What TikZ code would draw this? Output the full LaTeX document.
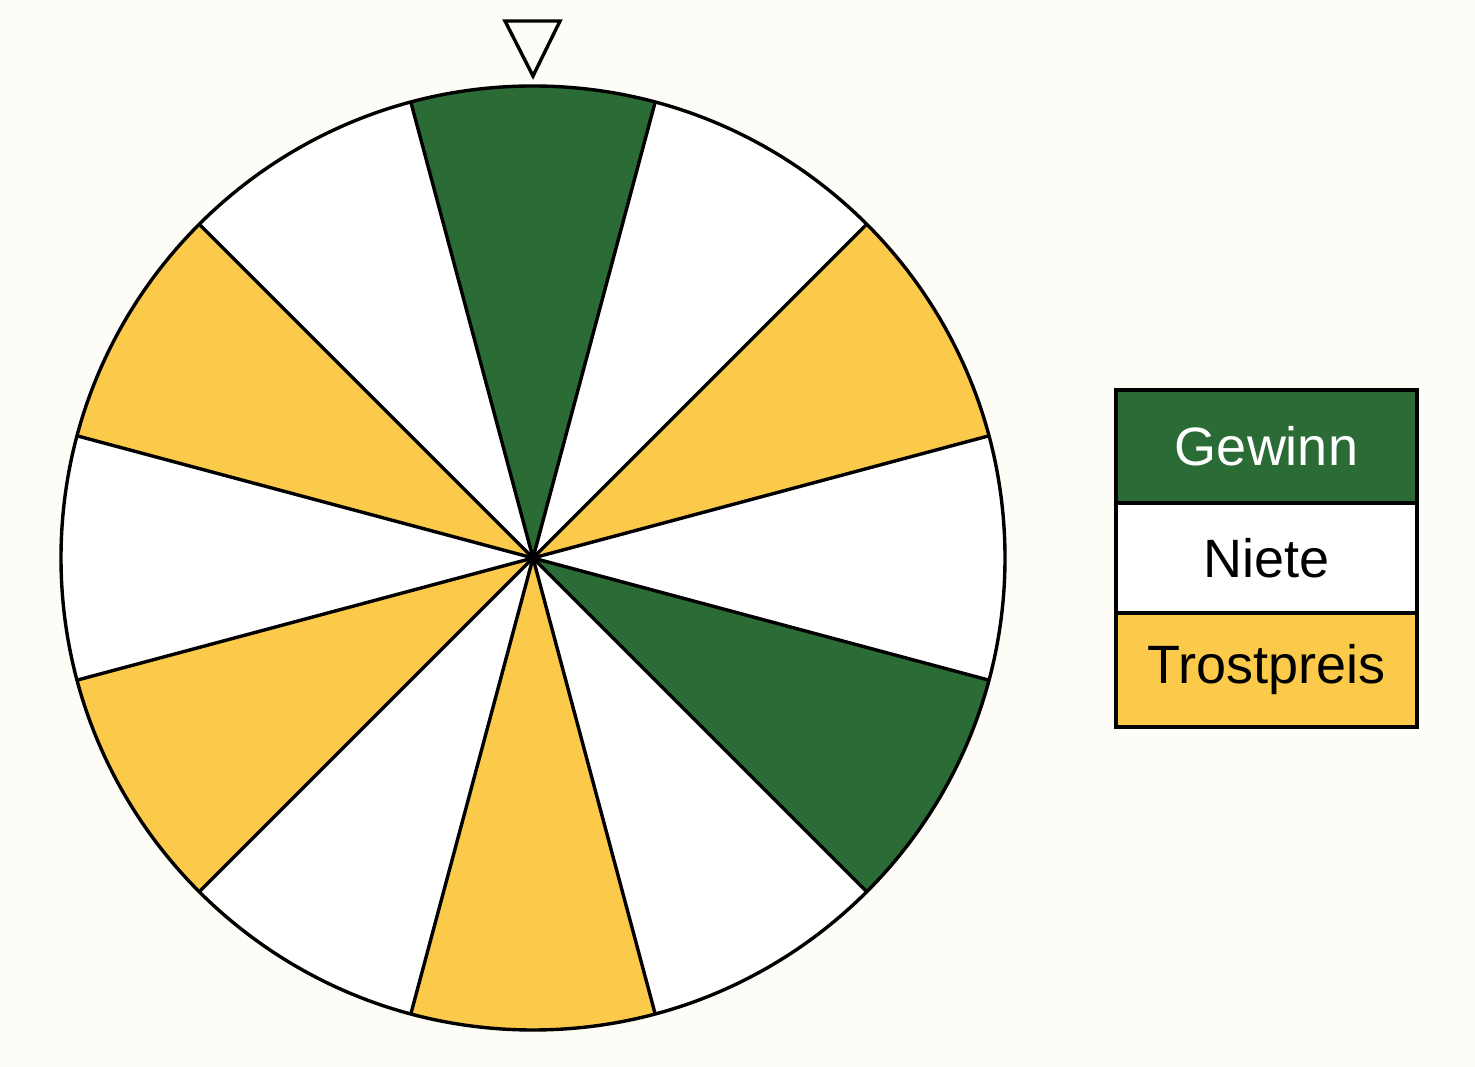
\documentclass[tikz,border=0pt]{standalone}
\usepackage{fontspec}
\setmainfont{Liberation Sans}
\definecolor{bg}{HTML}{FDFCF7}
\definecolor{wingreen}{HTML}{2B6B35}
\definecolor{trost}{HTML}{FCCA4A}
\tikzset{
  edge/.style={line width=3.4pt, line join=round},
  legrow/.style={draw, line width=3.4pt, minimum width=301pt, inner sep=0pt,
    font=\fontsize{54}{62}\selectfont, anchor=center}
}
\begin{document}
\begin{tikzpicture}[x=1pt,y=1pt]
\fill[bg] (0,0) rectangle (1475,1067);
\useasboundingbox (0,0) rectangle (1475,1067);
\coordinate (c) at (533,509);
% sectors
\foreach \a/\col in {90/wingreen, 60/white, 30/trost, 0/white, -30/wingreen, -60/white, -90/trost, -120/white, -150/trost, 180/white, 150/trost, 120/white}
  \fill[\col] (c) -- ++({\a-15}:472pt) arc[start angle={\a-15}, end angle={\a+15}, radius=472pt] -- cycle;
\foreach \a in {15,45,...,345}
  \draw[edge] (c) -- ++(\a:472pt);
\draw[edge] (c) circle[radius=472pt];
\fill (c) circle[radius=5pt];
% pointer
\coordinate (p1) at (505,1046);
\coordinate (p2) at (560,1046);
\coordinate (p3) at (533,991);
\draw[edge, fill=bg, line join=miter] (p1) -- (p2) -- (p3) -- cycle;
% legend
\node[legrow, fill=wingreen, text=white, minimum height=113pt] (gew) at (1266.5,620.5) {Gewinn};
\node[legrow, fill=white, minimum height=110pt] (nie) at (1266.5,509) {Niete};
\node[legrow, fill=trost, minimum height=114pt] (tro) at (1266.5,397) {Trostpreis};
\end{tikzpicture}
\end{document}
